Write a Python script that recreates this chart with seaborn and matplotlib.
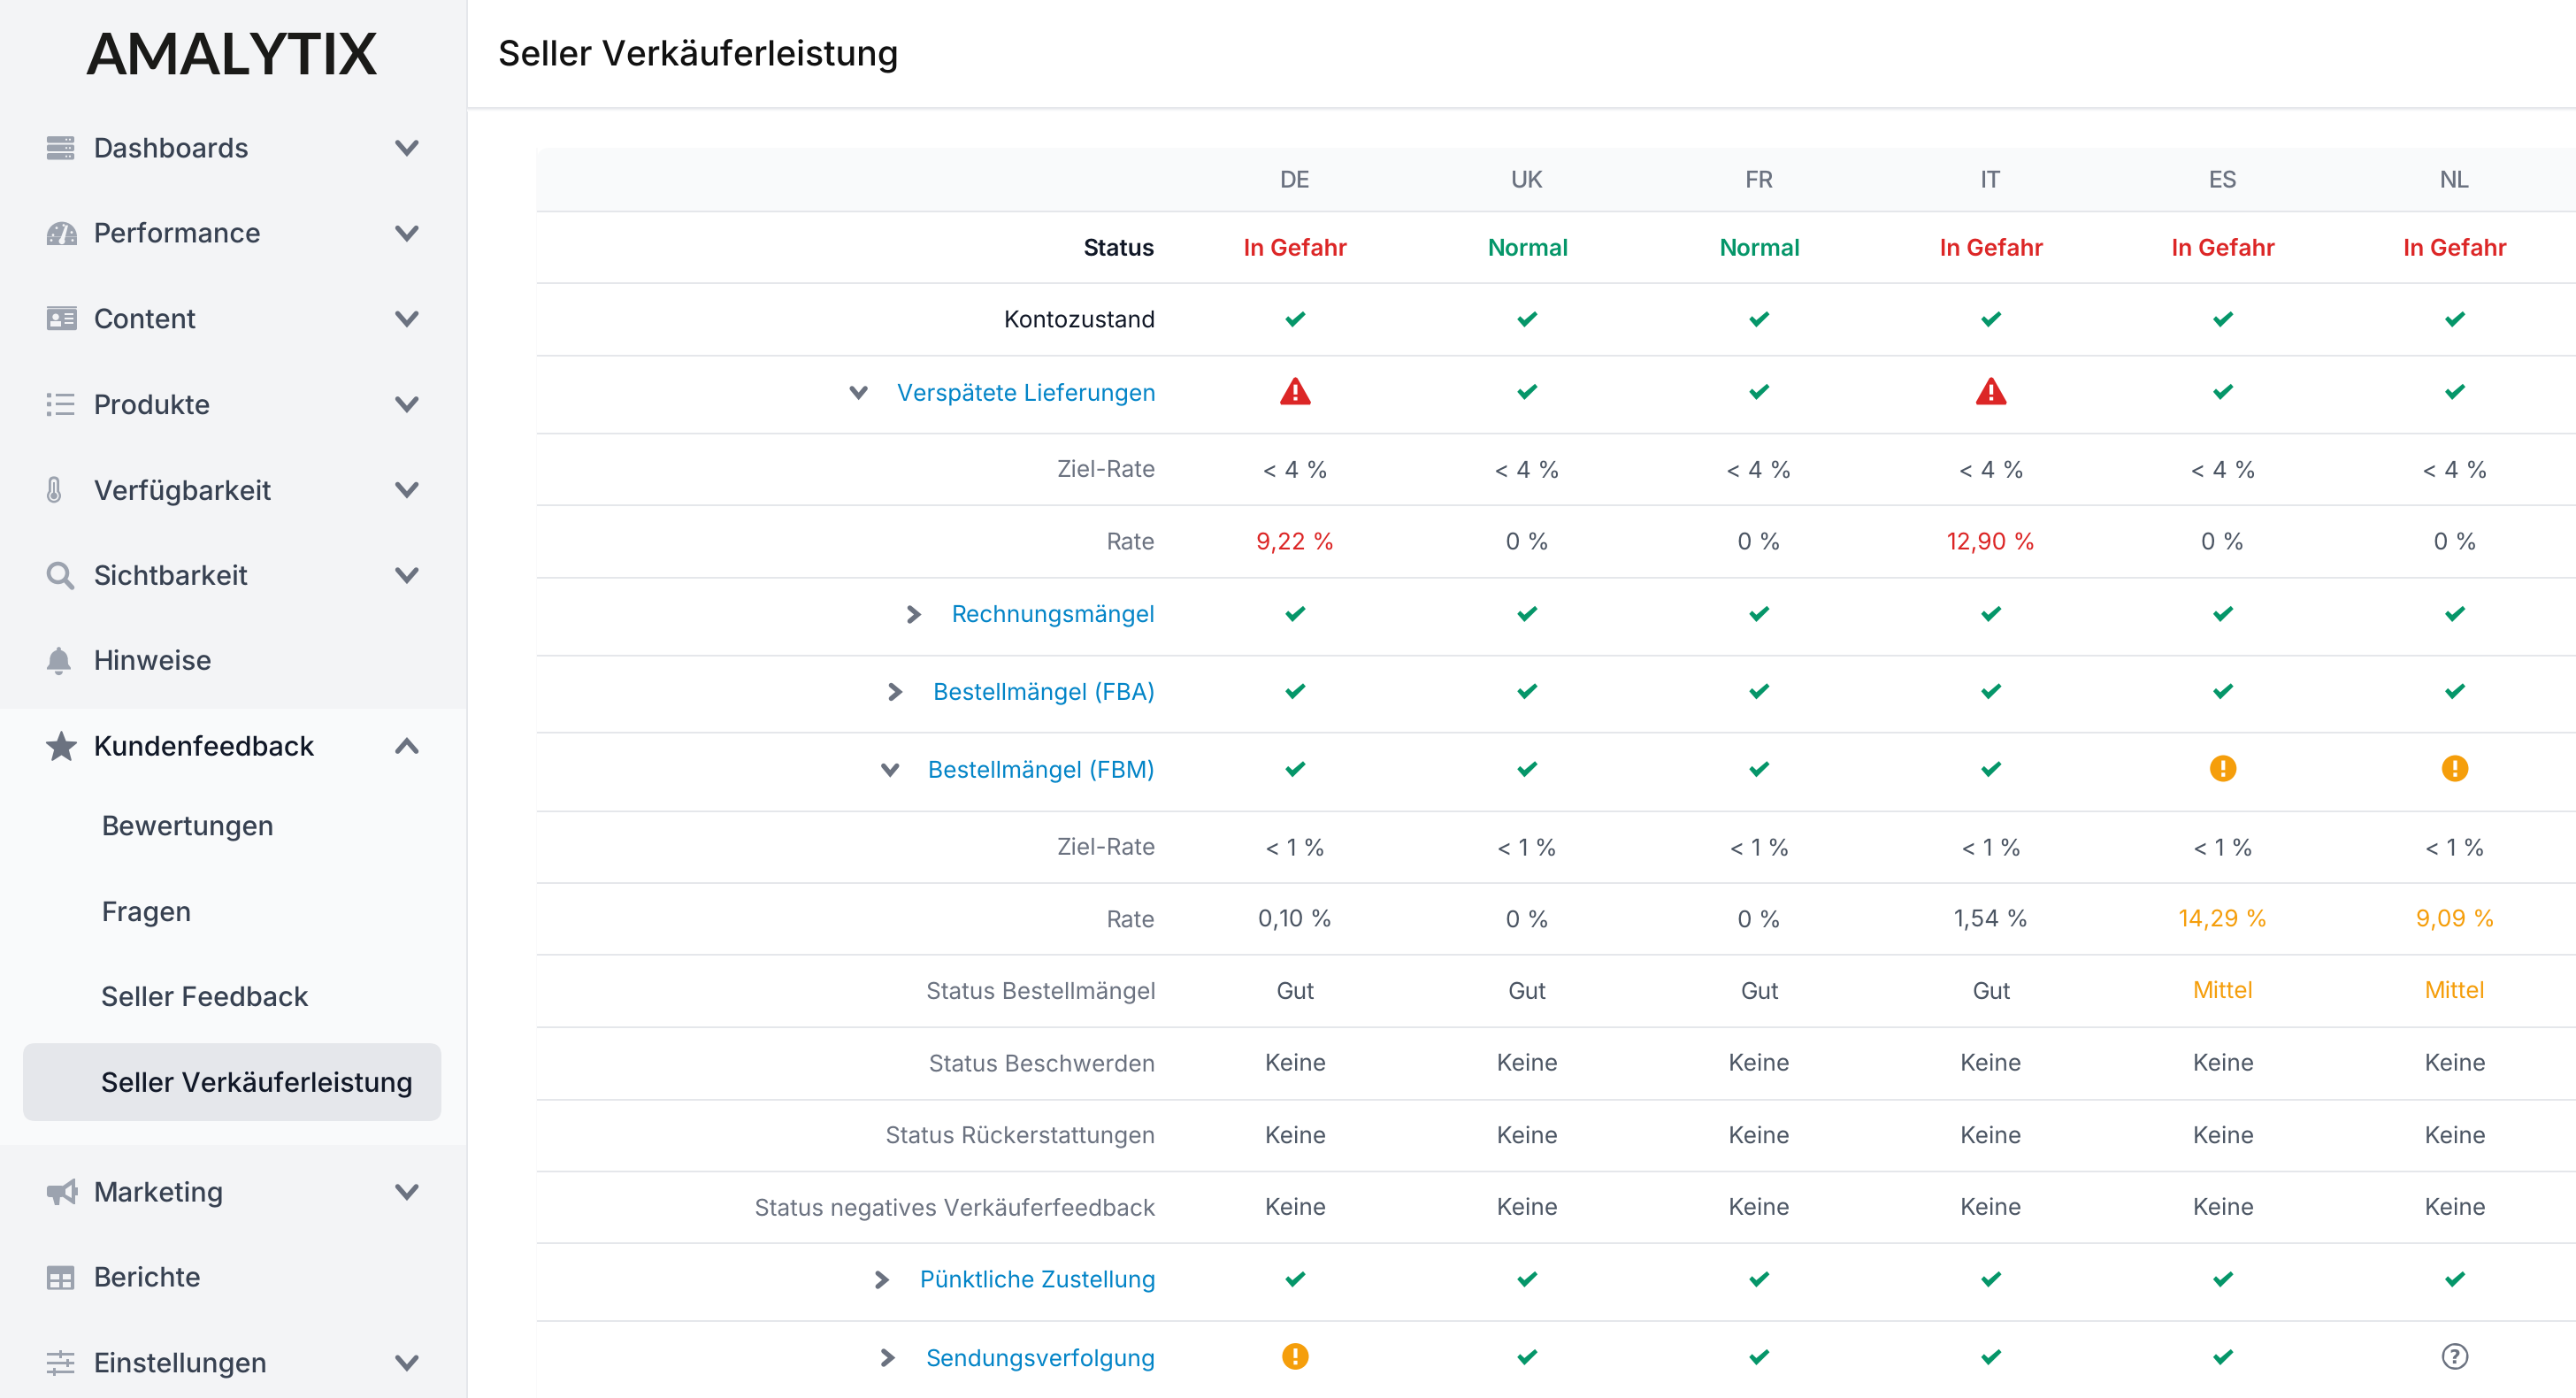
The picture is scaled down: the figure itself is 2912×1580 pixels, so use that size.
#!/usr/bin/env python
# -*- coding: utf-8 -*-
"""Seller Verkaeuferleistung screen, drawn on one axes in pixel units."""

import numpy as np
import pandas as pd
import matplotlib
matplotlib.use("Agg")
import matplotlib.pyplot as plt
import seaborn as sns
from matplotlib.patches import Circle, FancyBboxPatch, Polygon, Rectangle, Wedge
from matplotlib.path import Path
from matplotlib.textpath import TextPath
from matplotlib.transforms import Affine2D
from matplotlib.font_manager import FontProperties

# Sidebar
NAV_TOP = ["Dashboards", "Performance", "Content", "Produkte", "Verfügbarkeit",
           "Sichtbarkeit", "Hinweise", "Kundenfeedback"]
NAV_SUB = ["Bewertungen", "Fragen", "Seller Feedback", "Seller Verkäuferleistung"]
NAV_BOTTOM = ["Marketing", "Berichte", "Einstellungen"]
NAV_NO_CHEVRON = ["Hinweise", "Berichte"]

# Table
COUNTRIES = ["DE", "UK", "FR", "IT", "ES", "NL"]
ROW_LABELS = ["Status", "Kontozustand", "Verspätete Lieferungen", "Ziel-Rate", "Rate",
              "Rechnungsmängel", "Bestellmängel (FBA)", "Bestellmängel (FBM)", "Ziel-Rate",
              "Rate", "Status Bestellmängel", "Status Beschwerden", "Status Rückerstattungen",
              "Status negatives Verkäuferfeedback", "Pünktliche Zustellung", "Sendungsverfolgung"]
LINK_ROWS = {"Verspätete Lieferungen": "down", "Rechnungsmängel": "right",
             "Bestellmängel (FBA)": "right", "Bestellmängel (FBM)": "down",
             "Pünktliche Zustellung": "right", "Sendungsverfolgung": "right"}

status = ["In Gefahr", "Normal", "Normal", "In Gefahr", "In Gefahr", "In Gefahr"]
kontozustand = ["ok", "ok", "ok", "ok", "ok", "ok"]
lieferungen = ["alert", "ok", "ok", "alert", "ok", "ok"]
ziel_lieferung = ["< 4 %"] * 6
rate_lieferung = ["9,22 %", "0 %", "0 %", "12,90 %", "0 %", "0 %"]
rechnung = ["ok", "ok", "ok", "ok", "ok", "ok"]
maengel_fba = ["ok", "ok", "ok", "ok", "ok", "ok"]
maengel_fbm = ["ok", "ok", "ok", "ok", "warn", "warn"]
ziel_fbm = ["< 1 %"] * 6
rate_fbm = ["0,10 %", "0 %", "0 %", "1,54 %", "14,29 %", "9,09 %"]
status_maengel = ["Gut", "Gut", "Gut", "Gut", "Mittel", "Mittel"]
status_beschwerden = ["Keine"] * 6
status_rueck = ["Keine"] * 6
status_feedback = ["Keine"] * 6
zustellung = ["ok", "ok", "ok", "ok", "ok", "ok"]
sendung = ["warn", "ok", "ok", "ok", "ok", "unknown"]
ROW_CELLS = [status, kontozustand, lieferungen, ziel_lieferung, rate_lieferung, rechnung,
             maengel_fba, maengel_fbm, ziel_fbm, rate_fbm, status_maengel, status_beschwerden,
             status_rueck, status_feedback, zustellung, sendung]

# Colours
RED = "#DC2626"
GREEN = "#059669"
ORANGE = "#F59E0B"
BLUE = "#0284C7"
INK = "#111827"
SLATE = "#374151"
GREY = "#6B7280"
VALUE = "#4B5563"
ICON = "#9CA3AF"
LINE = "#E5E7EB"
SIDEBAR = "#F3F4F6"
PALE = "#F9FAFB"
CELL_COLORS = {"In Gefahr": RED, "Normal": GREEN, "9,22 %": RED, "12,90 %": RED,
               "14,29 %": ORANGE, "9,09 %": ORANGE, "Mittel": ORANGE}

# Layout in pixels
WIDTH, HEIGHT = 2912, 1580
SIDE_W = 527
ROW_EDGES = [239, 320, 402, 490, 571, 653, 741, 828, 917, 998, 1079, 1161, 1243, 1324, 1405, 1493, 1581]
COL_X0, COL_STEP = 1464.5, 262.2
LABEL_RIGHT = 1306.5
NAV_STEP = 96.6
NAV_SIZE = 30.6
CELL_SIZE = 26.3
PX = 0.72  # points per pixel at dpi 100


def rect_path(x0, y0, x1, y1):
    return Path([(x0, y0), (x0, y1), (x1, y1), (x1, y0), (x0, y0)], closed=True)


def check_marker():
    return Path([(-1, 0.02), (-0.72, 0.32), (-0.3, -0.08), (0.74, 0.8), (1, 0.5),
                 (-0.3, -0.78), (-1, 0.02)], closed=True)


def alert_marker():
    outer = Path([(-1, -0.72), (-0.94, -0.88), (0.94, -0.88), (1, -0.72), (0.12, 0.84),
                  (0, 0.9), (-0.12, 0.84), (-1, -0.72)], closed=True)
    return Path.make_compound_path(outer, rect_path(-0.12, -0.22, 0.12, 0.42),
                                   rect_path(-0.12, -0.6, 0.12, -0.38))


def warn_marker():
    return Path.make_compound_path(Path.unit_circle(), rect_path(-0.14, -0.12, 0.14, 0.6),
                                   rect_path(-0.14, -0.62, 0.14, -0.32))


def unknown_marker():
    inner = Path.unit_circle().transformed(Affine2D().scale(0.83))
    ring = Path.make_compound_path(Path.unit_circle(), Path(inner.vertices[::-1], inner.codes))
    glyph = TextPath((0, 0), "?", size=1.45, prop=FontProperties(family="DejaVu Sans", weight="bold"))
    extent = glyph.get_extents()
    glyph = glyph.transformed(Affine2D().translate(-extent.x0 - extent.width / 2,
                                                   -extent.y0 - extent.height / 2))
    return Path.make_compound_path(ring, glyph)


def chevron(ax, x, y, half_w, half_h, direction, color=GREY, lw=5.5):
    if direction == "down":
        xs, ys = [x - half_w, x, x + half_w], [y - half_h, y + half_h, y - half_h]
    elif direction == "up":
        xs, ys = [x - half_w, x, x + half_w], [y + half_h, y - half_h, y + half_h]
    else:
        xs, ys = [x - half_h, x + half_h, x - half_h], [y - half_w, y, y + half_w]
    ax.plot(xs, ys, color=color, lw=lw * PX, solid_capstyle="round", solid_joinstyle="miter", zorder=4)


def box(ax, x0, y0, w, h, color, rad=2.0):
    ax.add_patch(FancyBboxPatch((x0 + rad, y0 + rad), w - 2 * rad, h - 2 * rad,
                                boxstyle=f"round,pad={rad},rounding_size={rad}",
                                fc=color, ec="none", zorder=3))


def icon_dashboards(ax, x, y, bg):
    for top in (y - 13, y - 3.5, y + 6):
        box(ax, x, top, 31, 7.5, ICON)
        for dx in (22, 26):
            ax.add_patch(Circle((x + dx, top + 3.7), 1.1, fc=bg, ec="none", zorder=4))


def icon_performance(ax, x, y, bg):
    ax.add_patch(Wedge((x + 17, y + 4), 17, 180, 360, fc=ICON, ec="none", zorder=3))
    ax.add_patch(Rectangle((x, y + 4), 34, 9, fc=ICON, ec="none", zorder=3))
    for dx, dy in ((7, 2), (11, -6), (19, -9), (28, -1), (5, 8), (29, 8)):
        ax.add_patch(Circle((x + dx, y + dy), 1.4, fc=bg, ec="none", zorder=4))
    ax.add_patch(Polygon([(x + 21, y - 9), (x + 24, y - 9), (x + 20, y + 7), (x + 15, y + 7)],
                         fc=bg, ec="none", zorder=4))
    ax.add_patch(Circle((x + 17, y + 9), 3.5, fc=bg, ec="none", zorder=4))


def icon_content(ax, x, y, bg):
    box(ax, x, y - 14, 34, 2, ICON, rad=0.8)
    box(ax, x, y - 11, 34, 24, ICON)
    ax.add_patch(Circle((x + 10, y - 2), 3.7, fc=bg, ec="none", zorder=4))
    ax.add_patch(Rectangle((x + 4, y + 3), 12, 6, fc=bg, ec="none", zorder=4))
    for dy in (-5, 0, 5):
        ax.add_patch(Rectangle((x + 20, y + dy - 0.8), 10, 1.7, fc=bg, ec="none", zorder=4))


def icon_produkte(ax, x, y, bg):
    for dy in (-10, 0, 11):
        box(ax, x, y + dy - 2.5, 5, 5, ICON, rad=1)
        ax.add_patch(Rectangle((x + 10, y + dy - 1.7), 21, 3.4, fc=ICON, ec="none", zorder=3))


def icon_verfuegbarkeit(ax, x, y, bg):
    box(ax, x + 2, y - 15, 12, 24, ICON, rad=5.9)
    ax.add_patch(Circle((x + 8, y + 7), 8, fc=ICON, ec="none", zorder=3))
    box(ax, x + 4.8, y - 12, 6.4, 20, bg, rad=3)
    ax.add_patch(Circle((x + 8, y + 7), 5.5, fc=bg, ec="none", zorder=4))
    ax.add_patch(Circle((x + 8, y + 7), 3.8, fc=ICON, ec="none", zorder=5))
    ax.add_patch(Rectangle((x + 6.8, y - 8), 2.4, 14, fc=ICON, ec="none", zorder=5))


def icon_sichtbarkeit(ax, x, y, bg):
    ax.add_patch(Circle((x + 12.5, y - 2.5), 10.5, fc="none", ec=ICON, lw=4.5 * PX, zorder=3))
    ax.plot([x + 21, x + 28.5], [y + 6, y + 14], color=ICON, lw=5.5 * PX,
            solid_capstyle="round", zorder=3)


def icon_hinweise(ax, x, y, bg):
    ax.add_patch(Wedge((x + 13.5, y - 2), 10, 180, 360, fc=ICON, ec="none", zorder=3))
    ax.add_patch(Circle((x + 13.5, y - 13), 2.4, fc=ICON, ec="none", zorder=3))
    ax.add_patch(Polygon([(x + 3.5, y - 3), (x + 23.5, y - 3), (x + 24, y + 4), (x + 27, y + 8),
                          (x + 27, y + 10), (x, y + 10), (x, y + 8), (x + 3, y + 4)],
                         fc=ICON, ec="none", zorder=3))
    ax.add_patch(Wedge((x + 13.5, y + 12), 4.5, 0, 180, fc=ICON, ec="none", zorder=3))


def icon_kundenfeedback(ax, x, y, bg):
    angles = np.deg2rad(np.arange(-90, 270, 36))
    radii = np.array([17.5, 7.5] * 5)
    pts = np.column_stack([x + 16.5 + radii * np.cos(angles), y + 1.5 + radii * np.sin(angles)])
    ax.add_patch(Polygon(pts, fc=GREY, ec=GREY, lw=1.5, joinstyle="round", zorder=3))


def icon_marketing(ax, x, y, bg):
    ax.add_patch(Polygon([(x + 30, y - 15), (x + 32, y - 15), (x + 32, y + 14), (x + 30, y + 14),
                          (x + 17, y + 5), (x + 17, y - 6)], fc=ICON, ec="none", zorder=3))
    box(ax, x, y - 7, 19, 13, ICON, rad=3)
    ax.add_patch(Polygon([(x + 6, y + 4), (x + 15, y + 4), (x + 14, y + 15), (x + 9, y + 15)],
                         fc=ICON, ec="none", zorder=3))
    ax.add_patch(Polygon([(x + 21, y - 3), (x + 28, y - 8), (x + 28, y + 7), (x + 21, y + 3)],
                         fc=bg, ec="none", zorder=4))
    ax.add_patch(Rectangle((x + 32, y - 5), 2.5, 9, fc=ICON, ec="none", zorder=3))


def icon_berichte(ax, x, y, bg):
    box(ax, x, y - 13, 31, 27, ICON)
    for cx in (x + 4, x + 17.5):
        for cy in (y - 4, y + 5):
            ax.add_patch(Rectangle((cx, cy), 9.5, 6, fc=bg, ec="none", zorder=4))


def icon_einstellungen(ax, x, y, bg):
    for dy, knob in ((-10, 15), (0, 23), (10, 8)):
        ax.add_patch(Rectangle((x, y + dy - 1.5), 31, 3, fc=ICON, ec="none", zorder=3))
        ax.add_patch(Rectangle((x + knob - 1.5, y + dy - 4.5), 3.5, 9, fc=ICON, ec="none", zorder=4))


NAV_ICONS = {"Dashboards": icon_dashboards, "Performance": icon_performance,
             "Content": icon_content, "Produkte": icon_produkte,
             "Verfügbarkeit": icon_verfuegbarkeit, "Sichtbarkeit": icon_sichtbarkeit,
             "Hinweise": icon_hinweise, "Kundenfeedback": icon_kundenfeedback,
             "Marketing": icon_marketing, "Berichte": icon_berichte,
             "Einstellungen": icon_einstellungen}


def draw_sidebar(ax):
    ax.add_patch(Rectangle((0, 0), SIDE_W, HEIGHT, fc=SIDEBAR, ec="none", zorder=1))
    ax.add_patch(Rectangle((0, 801), SIDE_W, 493, fc=PALE, ec="none", zorder=1))
    ax.vlines(SIDE_W + 0.5, 0, HEIGHT, color=LINE, lw=2 * PX, zorder=2)
    ax.text(97, 84, "AMALYTIX", family="Lato", weight="bold", fontsize=64.5 * PX, color="#1A1A18",
            va="baseline", ha="left", zorder=5)

    for i, name in enumerate(NAV_TOP):
        y = 167 + i * NAV_STEP
        active = name == "Kundenfeedback"
        ax.text(105.5, y + 10.5, name, fontsize=NAV_SIZE * PX, weight="medium",
                color=INK if active else SLATE, va="baseline", zorder=5)
        NAV_ICONS[name](ax, 53, y, PALE if active else SIDEBAR)
        if name not in NAV_NO_CHEVRON:
            chevron(ax, 460, y, 10.5, 6, "up" if active else "down")

    box(ax, 26, 1179, 473, 88, LINE, rad=14)
    for i, name in enumerate(NAV_SUB):
        y = 933 + i * 96.6
        ax.text(114.5, y + 10.5, name, fontsize=NAV_SIZE * PX, weight="medium",
                color=INK if i == 3 else SLATE, va="baseline", zorder=5)

    for i, name in enumerate(NAV_BOTTOM):
        y = 1347 + i * NAV_STEP
        ax.text(105.5, y + 10.5, name, fontsize=NAV_SIZE * PX, weight="medium", color=SLATE,
                va="baseline", zorder=5)
        NAV_ICONS[name](ax, 53, y, SIDEBAR)
        if name not in NAV_NO_CHEVRON:
            chevron(ax, 460, y, 10.5, 6, "down")


def draw_table(ax):
    # header bar with its soft shadow
    for off, col in enumerate(["#E5E7EB", "#E8E9ED", "#EFF0F2", "#F6F7F8", "#FBFBFC"]):
        ax.add_patch(Rectangle((SIDE_W + 1, 121 + off), WIDTH, 1.2, fc=col, ec="none", zorder=2))
    ax.text(563, 74.5, "Seller Verkäuferleistung", fontsize=39.3 * PX, weight="medium", color="#111111",
            va="baseline", zorder=5)

    ax.add_patch(Rectangle((606, 167), 2, HEIGHT, fc="#FAFAFB", ec="none", zorder=1))
    ax.add_patch(FancyBboxPatch((622, 182), WIDTH, 60, boxstyle="round,pad=15,rounding_size=15",
                                fc=PALE, ec="none", zorder=1))
    ax.add_patch(Rectangle((607, 239), WIDTH, HEIGHT, fc="white", ec="none", zorder=1.5))
    ax.hlines(ROW_EDGES[:-1], 607, WIDTH, color=LINE, lw=2 * PX, zorder=2)

    col_x = COL_X0 + COL_STEP * np.arange(len(COUNTRIES))
    for x, code in zip(col_x, COUNTRIES):
        ax.text(x, 212, code, fontsize=CELL_SIZE * PX, weight="medium", color=GREY, ha="center",
                va="baseline", zorder=5)

    marks = []
    renderer = ax.figure.canvas.get_renderer()
    for r, (label, cells) in enumerate(zip(ROW_LABELS, ROW_CELLS)):
        y = (ROW_EDGES[r] + ROW_EDGES[r + 1]) / 2
        is_link = label in LINK_ROWS
        if is_link:
            y -= 3
        if label == "Status":
            color, weight = INK, "semibold"
        elif label == "Kontozustand":
            color, weight = INK, "normal"
        elif is_link:
            color, weight = BLUE, "normal"
        else:
            color, weight = GREY, "normal"
        txt = ax.text(LABEL_RIGHT, y + 9, label, fontsize=CELL_SIZE * PX, weight=weight, color=color,
                      ha="right", va="baseline", zorder=5)
        if is_link:
            # the arrow sits a fixed gap left of the label
            left = txt.get_window_extent(renderer).x0
            chevron(ax, left - 43, y + 0.5, 7.5, 4.5, LINK_ROWS[label], lw=5.5)
        for x, cell in zip(col_x, cells):
            if cell in ("ok", "alert", "warn", "unknown"):
                marks.append({"x": x, "y": y - (1 if cell != "ok" else 0), "mark": cell})
            else:
                ax.text(x, y + 9, cell, fontsize=CELL_SIZE * PX, color=CELL_COLORS.get(cell, VALUE),
                        weight="semibold" if label == "Status" else "normal", ha="center",
                        va="baseline", zorder=5)

    sns.scatterplot(data=pd.DataFrame(marks), x="x", y="y", hue="mark", style="mark", size="mark",
                    palette={"ok": GREEN, "alert": RED, "warn": ORANGE, "unknown": GREY},
                    markers={"ok": check_marker(), "alert": alert_marker(),
                             "warn": warn_marker(), "unknown": unknown_marker()},
                    sizes={"ok": (23 * PX) ** 2, "alert": (35 * PX) ** 2,
                           "warn": (30 * PX) ** 2, "unknown": (30 * PX) ** 2},
                    linewidth=0, legend=False, ax=ax, zorder=5)


def main():
    sns.set_theme(style="white")
    plt.rcParams["font.family"] = ["Inter", "DejaVu Sans"]
    plt.rcParams["text.hinting"] = "no_hinting"
    plt.rcParams["text.hinting_factor"] = 1

    fig = plt.figure(figsize=(WIDTH / 100, HEIGHT / 100), dpi=100, facecolor="white")
    ax = fig.add_axes([0, 0, 1, 1])
    ax.set_xlim(0, WIDTH)
    ax.set_ylim(HEIGHT, 0)
    draw_sidebar(ax)
    draw_table(ax)
    ax.set_xlim(0, WIDTH)
    ax.set_ylim(HEIGHT, 0)
    ax.axis("off")
    fig.savefig("out.png", dpi=100)


if __name__ == "__main__":
    main()
